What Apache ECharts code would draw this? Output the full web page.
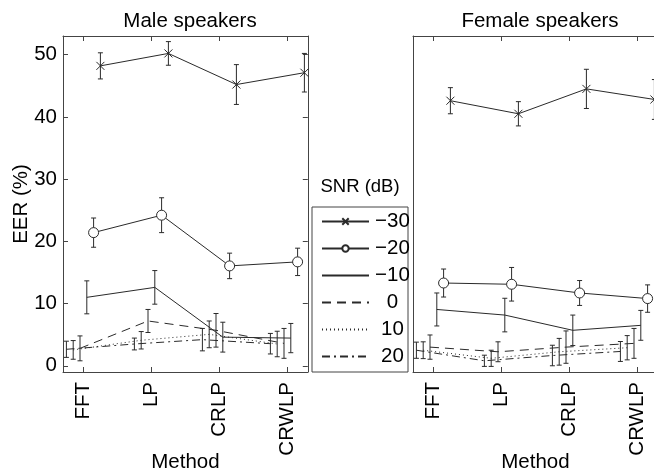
<!DOCTYPE html>
<html>
<head>
<meta charset="utf-8">
<script src="https://cdn.jsdelivr.net/npm/echarts@6/dist/echarts.min.js"></script>
<style>html,body{margin:0;padding:0;background:#fff}#c{width:654px;height:474px}</style>
</head>
<body>
<div id="c"></div>
<script>
// ---- data ----
const categories = ['FFT', 'LP', 'CRLP', 'CRWLP'];
const snrNames = ['\u221230', '\u221220', '\u221210', '0', '10', '20'];
const yTicks = [0, 10, 20, 30, 40, 50];

// Male speakers: mean EER (%) and error half-widths, per SNR level
const maleM30 = [48.2, 50.2, 45.2, 47.1];
const maleM30Err = [2.1, 1.9, 3.2, 3.1];
const maleM20 = [21.4, 24.2, 16.05, 16.7];
const maleM20Err = [2.35, 2.8, 2.05, 2.2];
const maleM10 = [11.0, 12.6, 4.6, 4.45];
const maleM10Err = [2.65, 2.7, 2.4, 2.35];
const male0 = [2.8, 7.2, 5.7, 3.6];
const male0Err = [2.0, 1.85, 2.7, 2.4];
const maleP10 = [2.55, 4.1, 5.05, 3.5];
const maleP10Err = [1.5, 1.4, 2.15, 2.05];
const maleP20 = [2.65, 3.5, 4.2, 3.55];
const maleP20Err = [1.3, 0.95, 1.8, 1.65];

// Female speakers
const femM30 = [42.6, 40.5, 44.5, 42.8];
const femM30Err = [2.1, 1.95, 3.15, 3.2];
const femM20 = [13.3, 13.1, 11.7, 10.8];
const femM20Err = [2.25, 2.7, 2.0, 2.2];
const femM10 = [9.05, 8.15, 5.7, 6.5];
const femM10Err = [2.65, 2.7, 2.45, 2.4];
const fem0 = [3.0, 2.25, 3.0, 3.6];
const fem0Err = [1.95, 1.6, 2.6, 2.4];
const femP10 = [2.5, 1.2, 2.25, 2.9];
const femP10Err = [1.35, 1.3, 2.15, 1.95];
const femP20 = [2.5, 0.8, 1.65, 2.3];
const femP20Err = [1.3, 0.9, 1.65, 1.6];

const panels = [
  { title: 'Male speakers', means: [maleM30, maleM20, maleM10, male0, maleP10, maleP20],
    errs: [maleM30Err, maleM20Err, maleM10Err, male0Err, maleP10Err, maleP20Err] },
  { title: 'Female speakers', means: [femM30, femM20, femM10, fem0, femP10, femP20],
    errs: [femM30Err, femM20Err, femM10Err, fem0Err, femP10Err, femP20Err] }
];

// ---- styles ----
const FONT = 'Liberation Sans, Arial, Helvetica, sans-serif';
const FS = 20.5;
const INK = '#2a2a2a';
const AX = '#444';
const groupShift = [0.25, 0.15, 0.05, -0.05, -0.15, -0.25];
const dashes = ['solid', 'solid', 'solid', [9, 6], [1, 3], [8, 4, 2, 4]];
const symbols = ['path://M0,0L10,10M10,0L0,10', 'circle', 'circle', 'circle', 'circle', 'circle'];
const symSizes = [8, 10, 0, 0, 0, 0];

const chart = echarts.init(document.getElementById('c'), null, { renderer: 'canvas' });

const grids = [
  { left: 63, top: 36, width: 244.8, height: 336, containLabel: false, outerBoundsMode: 'none' },
  { left: 413, top: 36, width: 244.8, height: 336, containLabel: false, outerBoundsMode: 'none' }
];

const xAxes = [], yAxes = [];
[0, 1].forEach(g => {
  xAxes.push({
    gridIndex: g, type: 'value', min: -0.3, max: 3.3, position: 'bottom',
    axisLine: { show: true, onZero: false, lineStyle: { color: AX, width: 1 } },
    axisTick: { show: true, inside: true, length: 5, customValues: [0, 1, 2, 3], lineStyle: { color: AX } },
    axisLabel: { show: true, customValues: [0, 1, 2, 3], rotate: 90, margin: 10,
      formatter: v => categories[Math.round(v)], fontSize: FS, color: '#000', fontFamily: FONT },
    splitLine: { show: false },
    name: 'Method', nameLocation: 'middle', nameGap: 80, nameMoveOverlap: false,
    nameTextStyle: { fontSize: FS, color: '#000', fontFamily: FONT }
  });
  xAxes.push({
    gridIndex: g, type: 'value', min: -0.3, max: 3.3, position: 'top',
    axisLine: { show: true, onZero: false, lineStyle: { color: AX, width: 1 } },
    axisTick: { show: true, inside: true, length: 5, customValues: [0, 1, 2, 3], lineStyle: { color: AX } },
    axisLabel: { show: false }, splitLine: { show: false }
  });
});
yAxes.push({
  gridIndex: 0, type: 'value', min: -1, max: 53, position: 'left',
  axisLine: { show: true, onZero: false, lineStyle: { color: AX, width: 1 } },
  axisTick: { show: true, inside: true, length: 5, customValues: yTicks, lineStyle: { color: AX } },
  axisLabel: { show: true, customValues: yTicks, margin: 6, fontSize: FS, color: '#000', fontFamily: FONT },
  splitLine: { show: false },
  name: 'EER (%)', nameLocation: 'middle', nameGap: 31, nameRotate: 90, nameMoveOverlap: false,
  nameTextStyle: { fontSize: FS, color: '#000', fontFamily: FONT }
});
yAxes.push({
  gridIndex: 0, type: 'value', min: -1, max: 53, position: 'right',
  axisLine: { show: true, onZero: false, lineStyle: { color: AX, width: 1 } },
  axisTick: { show: true, inside: true, length: 5, customValues: yTicks, lineStyle: { color: AX } },
  axisLabel: { show: false }, splitLine: { show: false }
});
yAxes.push({
  gridIndex: 1, type: 'value', min: -1, max: 53, position: 'left',
  axisLine: { show: true, onZero: false, lineStyle: { color: AX, width: 1 } },
  axisTick: { show: false }, axisLabel: { show: false }, splitLine: { show: false }
});
yAxes.push({
  gridIndex: 1, type: 'value', min: -1, max: 53, position: 'right',
  axisLine: { show: true, onZero: false, lineStyle: { color: AX, width: 1 } },
  axisTick: { show: false }, axisLabel: { show: false }, splitLine: { show: false }
});

function renderErr(params, api) {
  const x = api.value(0), lo = api.value(1), hi = api.value(2);
  const a = api.coord([x, hi]), b = api.coord([x, lo]);
  const w = 2.5;
  const st = { stroke: INK, lineWidth: 1 };
  return {
    type: 'group', children: [
      { type: 'line', shape: { x1: a[0], y1: a[1], x2: b[0], y2: b[1] }, style: st },
      { type: 'line', shape: { x1: a[0] - w, y1: a[1], x2: a[0] + w, y2: a[1] }, style: st },
      { type: 'line', shape: { x1: b[0] - w, y1: b[1], x2: b[0] + w, y2: b[1] }, style: st }
    ]
  };
}

const series = [];
panels.forEach((p, g) => {
  p.means.forEach((m, k) => {
    const hasSym = symSizes[k] > 0;
    let itemStyle;
    if (k === 0) itemStyle = { color: 'rgba(0,0,0,0)', borderColor: INK, borderWidth: 1 };
    else if (hasSym) itemStyle = { color: '#fff', borderColor: INK, borderWidth: 1 };
    else itemStyle = { color: 'rgba(0,0,0,0)', borderWidth: 0 };
    series.push({
      type: 'line', name: snrNames[k], xAxisIndex: g * 2, yAxisIndex: g * 2,
      data: m.map((v, i) => [i + groupShift[k], v]),
      lineStyle: { color: INK, width: 1, type: dashes[k] },
      symbol: symbols[k], symbolSize: symSizes[k], showSymbol: hasSym,
      itemStyle: itemStyle,
      animation: false, z: 3, silent: true
    });
  });
});
panels.forEach((p, g) => {
  p.means.forEach((m, k) => {
    series.push({
      type: 'custom', name: 'err' + g + '_' + k, xAxisIndex: g * 2, yAxisIndex: g * 2,
      data: m.map((v, i) => [i + groupShift[k], v - p.errs[k][i], v + p.errs[k][i]]),
      encode: { x: 0, y: [1, 2] },
      renderItem: renderErr, animation: false, z: 2, silent: true, clip: false
    });
  });
});

const option = {
  backgroundColor: '#fff',
  animation: false,
  title: [
    { text: panels[0].title, left: 185, top: 6, textAlign: 'center',
      textStyle: { fontSize: FS, fontWeight: 'normal', color: '#000', fontFamily: FONT } },
    { text: panels[1].title, left: 535, top: 6, textAlign: 'center',
      textStyle: { fontSize: FS, fontWeight: 'normal', color: '#000', fontFamily: FONT } }
  ],
  grid: grids,
  xAxis: xAxes,
  yAxis: yAxes,
  legend: {
    data: snrNames, orient: 'vertical', left: 321, top: 211, padding: 0,
    itemWidth: 47, itemHeight: 8, itemGap: 6, selectedMode: false,
    formatter: '{c|{name}}',
    textStyle: { fontSize: FS, color: '#000', fontFamily: FONT, lineHeight: 20,
      rich: { c: { width: 37, align: 'center', fontSize: FS, lineHeight: 20, fontFamily: FONT, color: '#000' } } }
  },
  graphic: [
    { type: 'rect', shape: { x: 312, y: 207, width: 96, height: 165 },
      style: { fill: 'none', stroke: AX, lineWidth: 1 }, silent: true },
    { type: 'text', x: 360, y: 187,
      style: { text: 'SNR (dB)', fontSize: 18.5, fontFamily: FONT, fill: '#000', align: 'center', verticalAlign: 'middle' },
      silent: true }
  ],
  series: series
};
chart.setOption(option);
</script>
</body>
</html>
